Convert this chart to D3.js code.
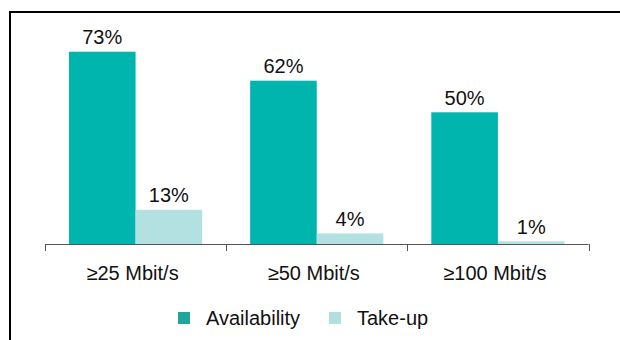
<!DOCTYPE html>
<html>
<head>
<meta charset="utf-8">
<script src="https://cdn.jsdelivr.net/npm/d3@7"></script>
<style>
  html, body { margin: 0; padding: 0; background: #fff; }
  svg { display: block; font-family: "Liberation Sans", Arial, sans-serif; }
</style>
</head>
<body>
<svg id="chart" width="620" height="340"></svg>
<script>
// Broadband speed tiers and their shares (%)
const categories = ["\u226525 Mbit/s", "\u226550 Mbit/s", "\u2265100 Mbit/s"];
const seriesNames = ["Availability", "Take-up"];
const availability = [73, 62, 50];
const takeUp = [13, 4, 1];

const barColors = { "Availability": "#00B5AD", "Take-up": "#B3E0E0" };
const legendColors = { "Availability": "#1FA59B", "Take-up": "#B3DFDF" };

const rows = categories.map((c, i) => ({
  category: c,
  values: [
    { series: "Availability", value: availability[i] },
    { series: "Take-up", value: takeUp[i] }
  ]
}));

const svg = d3.select("#chart");

// Frame: top and left rules
svg.append("line").attr("x1", 9).attr("x2", 620).attr("y1", 12).attr("y2", 12)
  .attr("stroke", "#000").attr("stroke-width", 2);
svg.append("line").attr("x1", 10).attr("x2", 10).attr("y1", 11).attr("y2", 340)
  .attr("stroke", "#000").attr("stroke-width", 2);

const baseY = 244;
const x0 = d3.scaleBand().domain(categories).range([45, 588.5]).paddingInner(0).paddingOuter(0);
const x1 = d3.scaleBand().domain(seriesNames).range([0, x0.bandwidth()]).paddingInner(0).paddingOuter(0.36);
const y = d3.scaleLinear().domain([0, 100]).range([baseY, baseY - 263.4]);

const groups = svg.append("g").selectAll("g").data(rows).join("g")
  .attr("transform", d => `translate(${x0(d.category)},0)`);

groups.selectAll("rect").data(d => d.values).join("rect")
  .attr("x", d => x1(d.series))
  .attr("y", d => y(d.value))
  .attr("width", x1.bandwidth())
  .attr("height", d => y(0) - y(d.value))
  .attr("fill", d => barColors[d.series]);

groups.selectAll("text.val").data(d => d.values).join("text")
  .attr("class", "val")
  .attr("x", d => x1(d.series) + x1.bandwidth() / 2)
  .attr("y", d => y(d.value) - 7.5)
  .attr("text-anchor", "middle")
  .attr("font-size", 20)
  .attr("fill", "#111")
  .text(d => d.value + "%");

// Category axis with ticks at band boundaries
const axis = svg.append("g").attr("transform", `translate(0,${baseY})`);
axis.append("line").attr("x1", 45).attr("x2", 588.5).attr("y1", 0.5).attr("y2", 0.5)
  .attr("stroke", "#555").attr("stroke-width", 1);
const tickPos = categories.map(c => x0(c)).concat([x0.range()[1]]);
axis.selectAll("line.tick").data(tickPos).join("line")
  .attr("class", "tick")
  .attr("x1", d => Math.round(d) + 0.5).attr("x2", d => Math.round(d) + 0.5)
  .attr("y1", 0).attr("y2", 7)
  .attr("stroke", "#555").attr("stroke-width", 1);
axis.selectAll("text").data(categories).join("text")
  .attr("x", d => x0(d) + x0.bandwidth() / 2 - 3)
  .attr("y", 36)
  .attr("text-anchor", "middle")
  .attr("font-size", 20)
  .attr("fill", "#111")
  .text(d => d);

// Legend
const legendItems = [
  { name: "Availability", x: 178 },
  { name: "Take-up", x: 329 }
];
const legend = svg.append("g");
legend.selectAll("rect").data(legendItems).join("rect")
  .attr("x", d => d.x).attr("y", 312)
  .attr("width", 12).attr("height", 12)
  .attr("fill", d => legendColors[d.name]);
legend.selectAll("text").data(legendItems).join("text")
  .attr("x", d => d.x + 28).attr("y", 325)
  .attr("font-size", 20)
  .attr("fill", "#111")
  .text(d => d.name);
</script>
</body>
</html>
